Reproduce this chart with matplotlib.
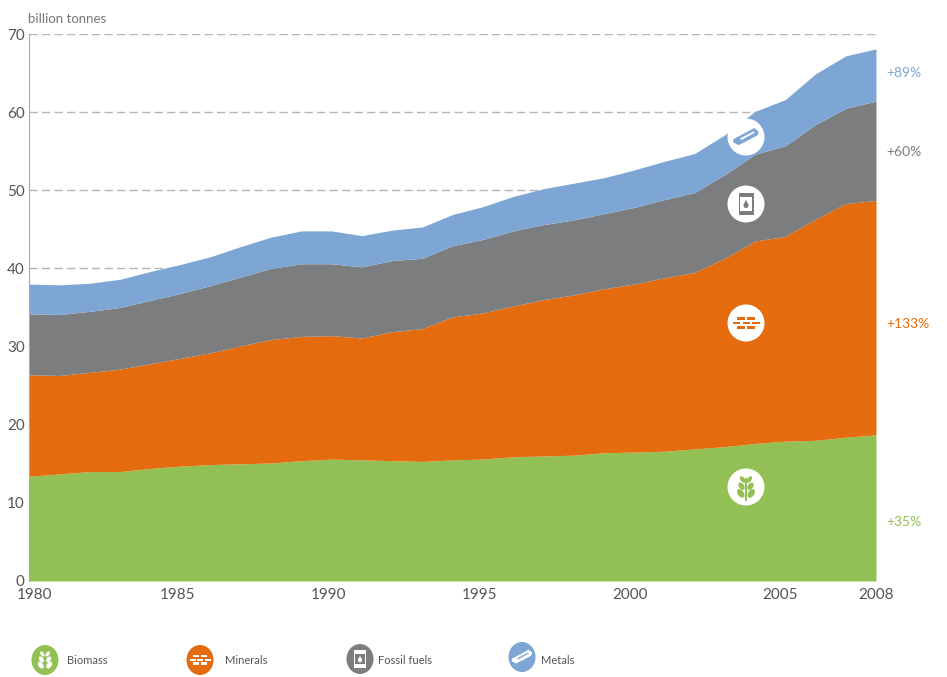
import matplotlib
matplotlib.use("Agg")
import matplotlib.pyplot as plt
from matplotlib.patches import Circle, Ellipse, Rectangle, Polygon
from matplotlib.transforms import ScaledTranslation
import numpy as np

plt.rcParams['font.family'] = ['Lato', 'DejaVu Sans']

years = list(range(1980, 2009))
# top of each band (billion tonnes)
biomass_top = [13.4, 13.7, 14.0, 14.0, 14.4, 14.7, 14.9, 15.0, 15.1, 15.4, 15.6, 15.5, 15.4, 15.3, 15.5,
               15.6, 15.9, 16.0, 16.1, 16.4, 16.5, 16.6, 16.9, 17.2, 17.6, 17.9, 18.0, 18.4, 18.7]
minerals_top = [26.4, 26.3, 26.7, 27.1, 27.8, 28.5, 29.2, 30.1, 30.9, 31.3, 31.4, 31.1, 31.9, 32.3, 33.8,
                34.3, 35.2, 36.0, 36.6, 37.4, 38.0, 38.8, 39.5, 41.3, 43.5, 44.1, 46.3, 48.3, 48.7]
fossil_top = [34.2, 34.1, 34.5, 35.0, 35.9, 36.8, 37.8, 38.9, 40.0, 40.6, 40.6, 40.2, 41.0, 41.3, 42.9,
              43.7, 44.8, 45.6, 46.2, 47.0, 47.8, 48.8, 49.7, 52.0, 54.6, 55.7, 58.4, 60.5, 61.4]
metals_top = [38.0, 37.9, 38.1, 38.6, 39.6, 40.5, 41.5, 42.8, 44.0, 44.8, 44.8, 44.2, 44.9, 45.3, 46.9,
              47.9, 49.2, 50.2, 50.9, 51.6, 52.6, 53.7, 54.7, 57.1, 60.1, 61.6, 64.9, 67.2, 68.1]

names = ["Biomass", "Minerals", "Fossil fuels", "Metals"]
kinds = ["leaf", "brick", "barrel", "bar"]
changes = ["+35%", "+133%", "+60%", "+89%"]
colors = ["#93C054", "#E46C0E", "#7C7D7F", "#7EA6D4"]
xticks = [1980, 1985, 1990, 1995, 2000, 2005, 2008]
yticks = [0, 10, 20, 30, 40, 50, 60, 70]

W, H = 947, 677
fig = plt.figure(figsize=(W / 100, H / 100), dpi=100)
ax = fig.add_axes([29 / W, (H - 581) / H, 847 / W, 547 / H])

tops = [biomass_top, minerals_top, fossil_top, metals_top]
bottom = np.zeros(len(years))
for top, c in zip(tops, colors):
    ax.fill_between(years, bottom, top, color=c, lw=0, zorder=3)
    bottom = np.array(top)

ax.set_xlim(1980, 2008)
ax.set_ylim(0, 70)
ax.set_xticks(xticks)
ax.set_yticks(yticks)
ax.tick_params(length=0, labelcolor="#555555", labelsize=11)
ax.tick_params(axis="x", pad=5)
ax.tick_params(axis="y", pad=3)
# the year labels sit a few pixels off their ticks in the original
for lab, dx in zip(ax.get_xticklabels(), [6, -3, -3, -3, -4, -5, 0]):
    lab.set_transform(lab.get_transform() + ScaledTranslation(dx / 100, 0, fig.dpi_scale_trans))
ax.yaxis.grid(True, color="#b5b5b5", ls=(0, (6, 3)), lw=1, zorder=1)
for s in ["top", "right", "bottom"]:
    ax.spines[s].set_visible(False)
ax.spines["left"].set_color("#aaaaaa")
ax.spines["left"].set_zorder(5)

# overlay in pixel coordinates for icons and loose labels
ov = fig.add_axes([0, 0, 1, 1], facecolor="none")
ov.set_xlim(0, W)
ov.set_ylim(H, 0)
ov.axis("off")


def leaf_icon(a, x, y, fg, bg, s):
    a.add_patch(Rectangle((x - 0.7 * s, y - 12 * s), 1.4 * s, 30 * s, color=fg, lw=0, zorder=8))
    for dy, w, h, off in [(-10, 5.5, 10, 4.5), (-1, 7, 11, 6), (8.5, 8, 13, 7)]:
        for side in (-1, 1):
            a.add_patch(Ellipse((x + side * off * s, y + dy * s), w * s, h * s,
                                angle=side * 35, color=fg, lw=0, zorder=8))


def brick_icon(a, x, y, fg, bg, s):
    for row, cols in [(-8, (-8, 5)), (-2, (-14, -1, 12)), (4, (-8, 5))]:
        for c in cols:
            a.add_patch(Rectangle((x + (c - 3.5) * s, y + row * s), 10 * s, 3.6 * s, color=fg, lw=0, zorder=8))


def barrel_icon(a, x, y, fg, bg, s):
    a.add_patch(Rectangle((x - 10 * s, y - 14.5 * s), 20 * s, 29 * s, facecolor=fg, lw=0, zorder=8))
    a.add_patch(Rectangle((x - 8 * s, y - 9 * s), 16 * s, 18 * s, facecolor=bg, lw=0, zorder=9))
    a.add_patch(Circle((x, y + 2 * s), 3.4 * s, color=fg, lw=0, zorder=10))
    a.add_patch(Polygon([(x - 3 * s, y + 0.5 * s), (x + 3 * s, y + 0.5 * s), (x, y - 5.5 * s)],
                        color=fg, lw=0, zorder=10))


def bar_icon(a, x, y, fg, bg, s):
    a.add_patch(Polygon([(x - 17 * s, y + 3 * s), (x + 11 * s, y - 12 * s), (x + 17 * s, y - 7 * s),
                         (x + 15 * s, y - 2 * s), (x - 10 * s, y + 11 * s), (x - 17 * s, y + 7 * s)],
                        color=fg, lw=0, zorder=8))
    a.add_patch(Polygon([(x - 9 * s, y + 2 * s), (x + 10 * s, y - 8 * s), (x + 13 * s, y - 6 * s),
                         (x - 6 * s, y + 4.5 * s)], facecolor=bg, edgecolor=fg, lw=0.5, zorder=9))


icon_funcs = {"leaf": leaf_icon, "brick": brick_icon, "barrel": barrel_icon, "bar": bar_icon}

# icons on the chart
icon_y = [487, 323, 204, 137]
for kind, c, iy in zip(kinds, colors, icon_y):
    ov.add_patch(Circle((746, iy), 18.5, color="white", lw=0, zorder=6))
    icon_funcs[kind](ov, 746, iy, c, "white", 0.75)

# change labels on the right
label_y = [522, 324, 152, 73]
for txt, c, ly in zip(changes, colors, label_y):
    ov.text(886, ly, txt, color=c, fontsize=10, va="center", ha="left")

ov.text(28, 19, "billion tonnes", color="#777777", fontsize=9.5, va="center", ha="left")

# legend row
legend_x = [45, 200, 360, 522]
legend_y = [660, 660, 659, 657]
text_x = [67, 225, 378, 541]
for name, kind, c, lx, ly, tx in zip(names, kinds, colors, legend_x, legend_y, text_x):
    ov.add_patch(Ellipse((lx, ly), 27, 30, color=c, lw=0, zorder=6))
    icon_funcs[kind](ov, lx, ly, "white", c, 0.6)
    ov.text(tx, 660, name, color="#555555", fontsize=8, va="center", ha="left")

fig.savefig("out.png", dpi=100)
